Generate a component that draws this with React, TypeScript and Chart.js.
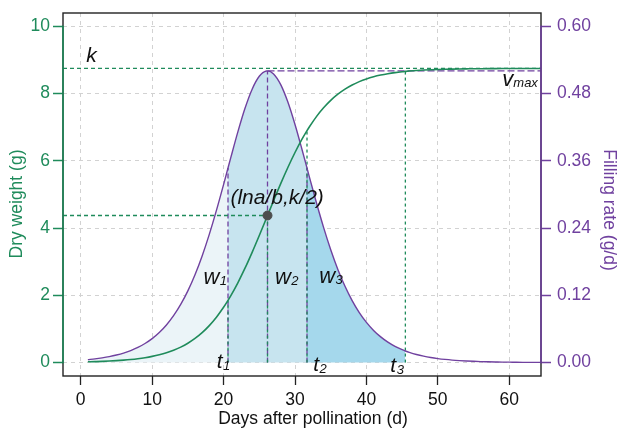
import React, { useEffect, useRef } from "react";
import { Chart, registerables } from "chart.js";

Chart.register(...registerables);

// ---------- data ----------
const days = [
  1, 2, 3, 4, 5, 6, 7, 8, 9, 10, 11, 12, 13, 14, 15, 16, 17, 18, 19, 20, 21, 22,
  23, 24, 25, 26, 27, 28, 29, 30, 31, 32, 33, 34, 35, 36, 37, 38, 39, 40, 41, 42,
  43, 44, 45, 46, 47, 48, 49, 50, 51, 52, 53, 54, 55, 56, 57, 58, 59, 60, 61, 62,
  63, 64, 65,
];
const dryWeight = [
  0.022, 0.028, 0.035, 0.045, 0.057, 0.072, 0.091, 0.115, 0.145, 0.183, 0.231,
  0.291, 0.367, 0.46, 0.575, 0.717, 0.89, 1.099, 1.349, 1.644, 1.985, 2.374,
  2.807, 3.28, 3.78, 4.297, 4.816, 5.323, 5.804, 6.25, 6.653, 7.008, 7.317, 7.58,
  7.801, 7.984, 8.135, 8.258, 8.358, 8.438, 8.502, 8.553, 8.594, 8.627, 8.653,
  8.673, 8.689, 8.702, 8.712, 8.72, 8.726, 8.731, 8.735, 8.738, 8.741, 8.743,
  8.744, 8.746, 8.747, 8.747, 8.748, 8.748, 8.749, 8.749, 8.749,
];
const fillingRate = [
  0.0052, 0.0066, 0.0084, 0.0106, 0.0134, 0.0169, 0.0214, 0.027, 0.034, 0.0427,
  0.0536, 0.0671, 0.0836, 0.1037, 0.1279, 0.1567, 0.1903, 0.2288, 0.2716, 0.3177,
  0.3653, 0.4117, 0.4538, 0.488, 0.511, 0.5205, 0.5153, 0.4962, 0.4651, 0.425,
  0.3795, 0.332, 0.2852, 0.2413, 0.2014, 0.1663, 0.1361, 0.1106, 0.0892, 0.0717,
  0.0574, 0.0458, 0.0364, 0.0289, 0.0229, 0.0182, 0.0144, 0.0114, 0.009, 0.0071,
  0.0056, 0.0044, 0.0035, 0.0028, 0.0022, 0.0017, 0.0014, 0.0011, 0.0008, 0.0007,
  0.0005, 0.0004, 0.0003, 0.0003, 0.0002,
];

// key times: t1, ln(a)/b, t2, t3
const keyTimes = [20.62, 26.15, 31.68, 45.45];
const weightAtKey = [1.8503, 4.375, 6.8997, 8.6623];
const rateAtKey = [0.34724, 0.52063, 0.34724, 0.020657];
const finalWeight = 8.75; // k

const xTicks = [0, 10, 20, 30, 40, 50, 60];
const leftTicks = [0, 2, 4, 6, 8, 10];
const rightTicks = [0, 0.12, 0.24, 0.36, 0.48, 0.6];

const xTitle = "Days after pollination (d)";
const leftTitle = "Dry weight (g)";
const rightTitle = "Filling rate (g/d)";

const X_MIN = -2.48;
const X_MAX = 64.44;

// ---------- styles ----------
const GREEN = "#1f8b5b";
const PURPLE = "#70419f";
const FONT = "'Liberation Sans', Arial, Helvetica, sans-serif";
const AXIS_FONT = 17.5;

type Pt = { x: number; y: number };

const mergeCurve = (vals: number[], keyVals: number[]): Pt[] =>
  [
    ...days.map((d, i) => ({ x: d, y: vals[i] })),
    ...keyTimes.map((t, i) => ({ x: t, y: keyVals[i] })),
  ].sort((a, b) => a.x - b.x);

const labels = [
  { text: "k", sub: "", x: 1.5, y: 9.12, size: 21 },
  { text: "(lna/b,k/2)", sub: "", x: 27.5, y: 4.88, size: 21 },
  { text: "w", sub: "1", x: 18.3, y: 2.53, size: 22 },
  { text: "w", sub: "2", x: 28.3, y: 2.53, size: 22 },
  { text: "w", sub: "3", x: 34.5, y: 2.56, size: 22 },
  { text: "t", sub: "1", x: 19.45, y: 0.01, size: 21 },
  { text: "t", sub: "2", x: 32.95, y: -0.08, size: 21 },
  { text: "t", sub: "3", x: 43.75, y: -0.1, size: 21 },
];

const decorPlugin = {
  id: "decor",
  afterDraw(chart: any) {
    const { ctx, chartArea, scales } = chart;
    const x = scales.x;
    const y = scales.y;
    const y1 = scales.y1;
    ctx.save();
    // frame
    ctx.strokeStyle = "#222";
    ctx.lineWidth = 1.4;
    ctx.strokeRect(
      chartArea.left,
      chartArea.top,
      chartArea.right - chartArea.left,
      chartArea.bottom - chartArea.top
    );
    // coloured axis lines
    ctx.lineWidth = 1.6;
    ctx.strokeStyle = GREEN;
    ctx.beginPath();
    ctx.moveTo(chartArea.left, y.getPixelForValue(leftTicks[0]) + 1);
    ctx.lineTo(chartArea.left, y.getPixelForValue(leftTicks[leftTicks.length - 1]) - 1);
    ctx.stroke();
    ctx.strokeStyle = PURPLE;
    ctx.beginPath();
    ctx.moveTo(chartArea.right, y1.getPixelForValue(rightTicks[0]) + 1);
    ctx.lineTo(chartArea.right, y1.getPixelForValue(rightTicks[rightTicks.length - 1]) - 1);
    ctx.stroke();

    // axis titles
    ctx.textBaseline = "middle";
    ctx.textAlign = "center";
    ctx.font = `${AXIS_FONT}px ${FONT}`;
    ctx.fillStyle = "#111";
    ctx.fillText(xTitle, chartArea.left + 250, chartArea.bottom + 43);
    ctx.save();
    ctx.translate(chartArea.left - 46, chartArea.top + 191);
    ctx.rotate(-Math.PI / 2);
    ctx.fillStyle = GREEN;
    ctx.fillText(leftTitle, 0, 0);
    ctx.restore();
    ctx.save();
    ctx.translate(chartArea.right + 68, chartArea.top + 197);
    ctx.rotate(Math.PI / 2);
    ctx.fillStyle = PURPLE;
    ctx.fillText(rightTitle, 0, 0);
    ctx.restore();

    // labels
    ctx.fillStyle = "#111";
    ctx.textBaseline = "middle";
    for (const l of labels) {
      const px = x.getPixelForValue(l.x);
      const py = y.getPixelForValue(l.y);
      ctx.font = `italic ${l.size}px ${FONT}`;
      const w = ctx.measureText(l.text).width;
      ctx.textAlign = "center";
      ctx.fillText(l.text, px, py);
      if (l.sub) {
        ctx.font = `italic 13px ${FONT}`;
        ctx.textAlign = "left";
        ctx.fillText(l.sub, px + w / 2 + 0.5, py + 4);
      }
    }
    // v_max, right aligned near right frame
    {
      const pxEnd = x.getPixelForValue(64.0);
      const py = y.getPixelForValue(8.42);
      ctx.font = `italic 13px ${FONT}`;
      const ws = ctx.measureText("max").width;
      ctx.font = `italic 22px ${FONT}`;
      const wv = ctx.measureText("v").width;
      ctx.textAlign = "left";
      ctx.fillText("v", pxEnd - ws - wv, py);
      ctx.font = `italic 13px ${FONT}`;
      ctx.fillText("max", pxEnd - ws, py + 4);
    }
    ctx.restore();
  },
};

export default function App() {
  const ref = useRef<HTMLCanvasElement | null>(null);

  useEffect(() => {
    if (!ref.current) return;
    Chart.defaults.font.family = FONT;

    const ratePts = mergeCurve(fillingRate, rateAtKey);
    const weightPts = mergeCurve(dryWeight, weightAtKey);
    const [t1, tp, t2, t3] = keyTimes;
    const seg1 = ratePts.filter((p) => p.x <= t1);
    const seg2 = ratePts.filter((p) => p.x >= t1 && p.x <= t2);
    const seg3 = ratePts.filter((p) => p.x >= t2 && p.x <= t3);

    const fillSet = (data: Pt[], color: string) => ({
      type: "line" as const,
      data,
      yAxisID: "y1",
      borderColor: "rgba(0,0,0,0)",
      borderWidth: 0,
      backgroundColor: color,
      fill: "origin",
      pointRadius: 0,
      cubicInterpolationMode: "monotone" as const,
      order: 20,
    });

    const dashSet = (
      data: Pt[],
      axis: string,
      color: string,
      dash: number[],
      order: number
    ) => ({
      type: "line" as const,
      data,
      yAxisID: axis,
      borderColor: color,
      borderWidth: 1.3,
      borderDash: dash,
      pointRadius: 0,
      fill: false,
      tension: 0,
      order,
    });

    const purpleV = [0, 1, 2].map((i) =>
      dashSet(
        [
          { x: keyTimes[i], y: 0 },
          { x: keyTimes[i], y: rateAtKey[i] },
        ],
        "y1",
        PURPLE,
        [5, 3],
        11
      )
    );
    const greenV = [0, 1, 2, 3].map((i) =>
      dashSet(
        [
          { x: keyTimes[i], y: 0 },
          { x: keyTimes[i], y: weightAtKey[i] },
        ],
        "y",
        GREEN,
        [3, 3],
        10
      )
    );

    const noPadV = (s: any, w: number) => {
      s.width = w;
      s.paddingTop = 0;
      s.paddingBottom = 0;
    };

    const chart = new Chart(ref.current, {
      type: "line",
      data: {
        datasets: [
          fillSet(seg1, "#ebf4f8"),
          fillSet(seg2, "#c7e4ef"),
          fillSet(seg3, "#a5d8ec"),
          ...purpleV,
          ...greenV,
          dashSet(
            [
              { x: X_MIN, y: finalWeight },
              { x: X_MAX, y: finalWeight },
            ],
            "y",
            GREEN,
            [4, 3],
            9
          ),
          dashSet(
            [
              { x: X_MIN, y: finalWeight / 2 },
              { x: tp, y: finalWeight / 2 },
            ],
            "y",
            GREEN,
            [4, 3],
            9
          ),
          dashSet(
            [
              { x: tp, y: rateAtKey[1] },
              { x: X_MAX, y: rateAtKey[1] },
            ],
            "y1",
            PURPLE,
            [7, 3],
            9
          ),
          {
            type: "line",
            data: ratePts,
            yAxisID: "y1",
            borderColor: PURPLE,
            borderWidth: 1.4,
            pointRadius: 0,
            fill: false,
            cubicInterpolationMode: "monotone",
            order: 3,
          },
          {
            type: "line",
            data: weightPts,
            yAxisID: "y",
            borderColor: GREEN,
            borderWidth: 1.6,
            pointRadius: 0,
            fill: false,
            cubicInterpolationMode: "monotone",
            order: 2,
          },
          {
            type: "scatter",
            data: [{ x: tp, y: weightAtKey[1] }],
            yAxisID: "y",
            backgroundColor: "#4d4d4d",
            borderColor: "#4d4d4d",
            pointRadius: 4.5,
            order: 1,
          },
        ] as any,
      },
      options: {
        animation: false,
        responsive: true,
        maintainAspectRatio: false,
        parsing: false as any,
        normalized: true,
        layout: { padding: { top: 13, left: 0, right: 0, bottom: 0 } },
        plugins: {
          legend: { display: false },
          tooltip: { enabled: false },
        },
        scales: {
          x: {
            type: "linear",
            position: "bottom",
            min: X_MIN,
            max: X_MAX,
            afterBuildTicks: (s: any) => {
              s.ticks = xTicks.map((v) => ({ value: v }));
            },
            afterFit: (s: any) => {
              s.height = 52;
              s.paddingLeft = 0;
              s.paddingRight = 0;
            },
            ticks: {
              color: "#111",
              font: { size: AXIS_FONT },
              padding: 5,
              maxRotation: 0,
              callback: (v: any) => String(v),
            },
            grid: {
              color: "#d2d2d2",
              lineWidth: 1,
              tickColor: "#222",
              tickLength: 9,
              tickWidth: 1.3,
            },
            border: { display: false, dash: [4, 4] },
          },
          y: {
            type: "linear",
            position: "left",
            min: -0.4,
            max: 10.4,
            afterBuildTicks: (s: any) => {
              s.ticks = leftTicks.map((v) => ({ value: v }));
            },
            afterFit: (s: any) => noPadV(s, 63),
            ticks: {
              color: GREEN,
              font: { size: AXIS_FONT },
              padding: 3,
              callback: (v: any) => String(v),
            },
            grid: {
              color: "#d2d2d2",
              lineWidth: 1,
              tickColor: GREEN,
              tickLength: 10,
              tickWidth: 1.5,
            },
            border: { display: false, dash: [4, 4] },
          },
          y1: {
            type: "linear",
            position: "right",
            min: -0.024,
            max: 0.624,
            afterBuildTicks: (s: any) => {
              s.ticks = rightTicks.map((v) => ({ value: v }));
            },
            afterFit: (s: any) => noPadV(s, 79),
            ticks: {
              color: PURPLE,
              font: { size: AXIS_FONT },
              padding: 6,
              callback: (v: any) => Number(v).toFixed(2),
            },
            grid: {
              drawOnChartArea: false,
              tickColor: PURPLE,
              tickLength: 10,
              tickWidth: 1.5,
            },
            border: { display: false },
          },
        },
      } as any,
      plugins: [decorPlugin],
    });

    return () => chart.destroy();
  }, []);

  return (
    <div
      style={{
        position: "fixed",
        left: 0,
        top: 0,
        width: 620,
        height: 428,
        background: "#fff",
      }}
    >
      <canvas ref={ref} />
    </div>
  );
}
